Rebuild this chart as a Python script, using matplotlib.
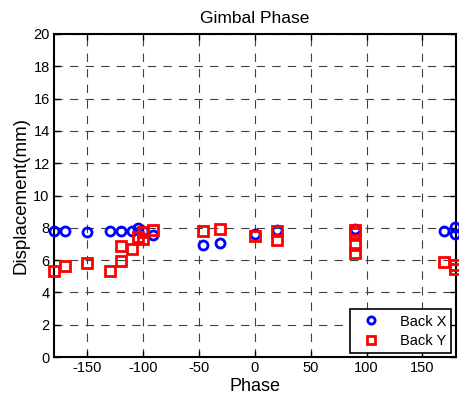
import matplotlib
matplotlib.use("Agg")
import matplotlib.pyplot as plt

plt.rcParams['font.family'] = ['Liberation Sans', 'DejaVu Sans']
plt.rcParams['axes.unicode_minus'] = False

# Back X (blue circles)
phase_x = [-180, -170, -150, -130, -120, -110, -105, -100, -91, -46, -31, 0, 20, 90, 169, 179, 179]
disp_x = [7.8, 7.8, 7.75, 7.8, 7.8, 7.8, 8.0, 7.8, 7.55, 6.95, 7.05, 7.6, 7.85, 7.9, 7.78, 8.05, 7.6]

# Back Y (red squares)
phase_y = [-180, -170, -150, -130, -120, -120, -110, -105, -100, -100, -91, -46, -31, 0, 20, 20, 90, 90, 90, 90, 169, 179, 179]
disp_y = [5.3, 5.63, 5.8, 5.32, 5.96, 6.9, 6.67, 7.45, 7.72, 7.29, 7.84, 7.78, 7.9, 7.51, 7.82, 7.24, 7.85, 7.7, 6.93, 6.42, 5.86, 5.7, 5.45]

title = "Gimbal Phase"
xlabel = "Phase"
ylabel = "Displacement(mm)"
legend_labels = ["Back X", "Back Y"]

fig = plt.figure(figsize=(4.6, 3.99), dpi=100)
ax = fig.add_axes([0.117, 0.105, 0.874, 0.81])

ax.plot(phase_x, disp_x, linestyle='none', marker='o', markersize=6.5,
        markerfacecolor='none', markeredgecolor='#0000ff', markeredgewidth=2,
        label=legend_labels[0], clip_on=False, zorder=3)
ax.plot(phase_y, disp_y, linestyle='none', marker='s', markersize=7,
        markerfacecolor='none', markeredgecolor='#ff0000', markeredgewidth=2,
        label=legend_labels[1], clip_on=False, zorder=3)

ax.set_xlim(-180, 180)
ax.set_ylim(0, 20)
ax.set_xticks(range(-150, 151, 50))
ax.set_yticks(range(0, 21, 2))
ax.grid(True, color='#404040', linestyle=(0, (7.5, 6.5)), linewidth=0.8)
ax.tick_params(direction='in', top=True, right=True, labelsize=10.5, length=4, width=1, pad=3)
for s in ax.spines.values():
    s.set_linewidth(1.5)

ax.set_title(title, fontsize=12.5, pad=8)
ax.set_xlabel(xlabel, fontsize=13, labelpad=2)
ax.set_ylabel(ylabel, fontsize=13.5, labelpad=3)

leg = ax.legend(loc='lower right', fontsize=10.5, fancybox=False, framealpha=1,
                edgecolor='black', borderpad=0.35, handletextpad=0.9, handlelength=2.2,
                borderaxespad=0.3, markerscale=0.8, labelspacing=0.35)
leg.get_frame().set_linewidth(1.2)

fig.savefig("out.png", dpi=100, facecolor='white')
